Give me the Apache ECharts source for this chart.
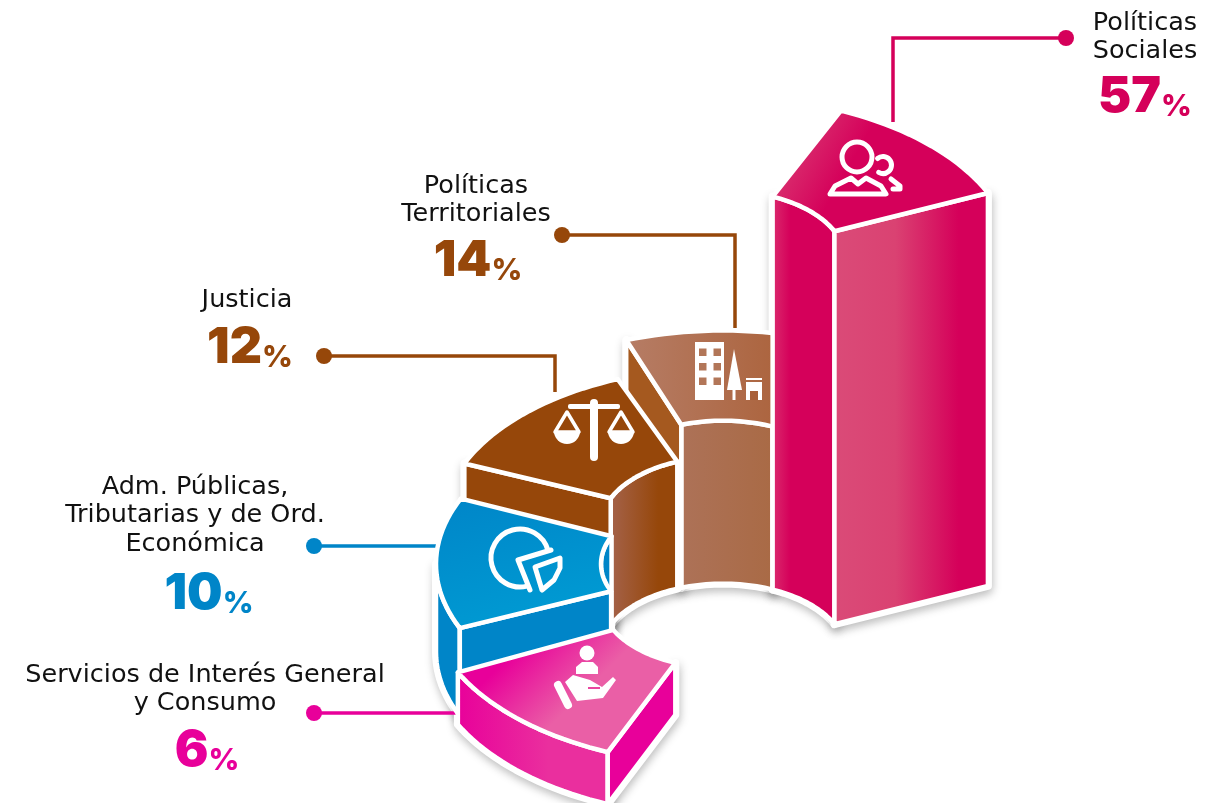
<!DOCTYPE html>
<html>
<head>
<meta charset="utf-8">
<style>
  html, body { margin: 0; padding: 0; background: #fff; }
  #chart { width: 1208px; height: 803px; }
</style>
<script src="https://cdn.jsdelivr.net/npm/echarts@6/dist/echarts.min.js"></script>
</head>
<body>
<div id="chart"></div>
<script>
// listed back to front, the slices are painted in this order
const categories = [
  "Políticas\nTerritoriales",
  "Políticas\nSociales",
  "Justicia",
  "Adm. Públicas,\nTributarias y de Ord.\nEconómica",
  "Servicios de Interés General\ny Consumo"
];
const shares = [14, 57, 12, 10, 6];
const mainColors = ["#96470a", "#d5005a", "#96470a", "#0085c8", "#e8009a"];

// ring geometry, not data: the picture does not draw the shares to scale
const startAngles = [250, 294, 203, 156.5, 113];
const endAngles = [294, 336, 248, 204, 154];
const columnHeights = [163, 393, 127, 88, 52];
const outerRadii = [283, 290, 281, 287, 295];
const CENTER = [723, 652];
const SQUASH = 0.56;
const INNER_RADIUS = 122;

// [x, first line y, percent x, percent y]
const labelSpots = [
  [476, 172, 478, 261],
  [1145, 9, 1145, 97],
  [247, 286, 250, 348],
  [195, 473, 209, 594],
  [205, 661, 207, 751]
];
const leaderPaths = [
  [[562, 235], [735, 235], [735, 328]],
  [[1066, 38], [893, 38], [893, 122]],
  [[324, 356], [555, 356], [555, 392]],
  [[314, 546], [438, 546]],
  [[314, 713], [458, 713]]
];

const topFills = [
  [[0, "#b67d66"], [1, "#a85a2e"]],
  [[0, "#dc4f7c"], [0.55, "#d5005a"], [1, "#d5005a"]],
  [[0, "#96470a"], [1, "#96470a"]],
  [[0, "#0085c8"], [1, "#0099d2"]],
  [[0, "#e8009a"], [0.3, "#e8009a"], [0.85, "#ea5fa6"], [1, "#ea5fa6"]]
];
const topDirs = [[0, 0, 1, 0], [0, 0, 0.7, 0.7], [0, 0, 1, 0], [0, 0, 0.2, 1], [0.1, 0, 0.55, 0.8]];
const innerFills = [
  [[0, "#ad7258"], [1, "#a96a45"]],
  [[0, "#db2f6f"], [0.3, "#d5005a"], [1, "#d5005a"]],
  [[0, "#a5634c"], [0.7, "#96470a"], [1, "#96470a"]],
  [[0, "#0085c8"], [1, "#0085c8"]],
  [[0, "#e8009a"], [1, "#e8009a"]]
];
const startWallFills = ["#a5591f", "#d5005a", "#96470a", "#0085c8", "#e8009a"];
const outerFills = [
  [[0, "#a85a2e"], [1, "#a85a2e"]],
  [[0, "#d5005a"], [1, "#d5005a"]],
  [[0, "#96470a"], [1, "#96470a"]],
  [[0, "#0085c8"], [1, "#0085c8"]],
  [[0, "#e8009a"], [0.6, "#ea2f9e"], [1, "#ea2f9e"]]
];
const endWallFill = [[0, "#da4b78"], [0.4, "#da4272"], [0.8, "#d5005a"], [1, "#d5005a"]];

function project(r, deg, z) {
  const a = (deg * Math.PI) / 180;
  return [CENTER[0] + r * Math.cos(a), CENTER[1] + SQUASH * r * Math.sin(a) - z];
}

function arc(r, from, to, z) {
  const pts = [];
  const steps = Math.max(2, Math.ceil(Math.abs(to - from) / 2));
  for (let i = 0; i <= steps; i++) {
    pts.push(project(r, from + ((to - from) * i) / steps, z));
  }
  return pts;
}

function grad(stops, dir) {
  const d = dir || [0, 0, 1, 0];
  return new echarts.graphic.LinearGradient(d[0], d[1], d[2], d[3],
    stops.map(s => ({ offset: s[0], color: s[1] })));
}

// every face of one slice as a list of {points, fill}, in paint order, top face last
function sliceFaces(i) {
  const a0 = startAngles[i], a1 = endAngles[i], h = columnHeights[i];
  const r0 = INNER_RADIUS, r1 = outerRadii[i];
  const faces = [];
  const wallArc = (r, from, to, fill) => {
    const hi = arc(r, from, to, h);
    const lo = arc(r, to, from, 0);
    faces.push({ points: hi.concat(lo), fill: fill });
  };
  // inner wall only shows on the far half of the ring
  const innerFrom = Math.max(a0, 180), innerTo = Math.min(a1, 360);
  if (innerTo > innerFrom) wallArc(r0, innerFrom, innerTo, grad(innerFills[i]));
  // outer wall only shows on the near half
  const outerFrom = Math.max(a0, 0), outerTo = Math.min(a1, 180);
  if (outerTo > outerFrom) wallArc(r1, outerFrom, outerTo, grad(outerFills[i]));
  if (Math.cos((a0 * Math.PI) / 180) < 0) {
    faces.push({
      points: [project(r0, a0, h), project(r1, a0, h), project(r1, a0, 0), project(r0, a0, 0)],
      fill: startWallFills[i]
    });
  }
  if (Math.cos((a1 * Math.PI) / 180) > 0) {
    faces.push({
      points: [project(r0, a1, h), project(r1, a1, h), project(r1, a1, 0), project(r0, a1, 0)],
      fill: grad(endWallFill)
    });
  }
  faces.push({
    points: arc(r1, a0, a1, h).concat(arc(r0, a1, a0, h)),
    fill: grad(topFills[i], topDirs[i])
  });
  return faces;
}

const WHITE = "#fff";
const ink = { fill: "none", stroke: WHITE, lineWidth: 5, lineCap: "round", lineJoin: "round" };
const solid = { fill: WHITE };

function poly(points, style) { return { type: "polygon", shape: { points }, style }; }
function line(points, style) { return { type: "polyline", shape: { points }, style }; }
function box(x, y, width, height, fill, r) {
  return { type: "rect", shape: { x, y, width, height, r: r || 0 }, style: { fill } };
}
function dot(cx, cy, r, style) { return { type: "circle", shape: { cx, cy, r }, style }; }
function bow(cx, cy, r, from, to, style, clockwise) {
  return {
    type: "arc",
    shape: { cx, cy, r, startAngle: (from * Math.PI) / 180, endAngle: (to * Math.PI) / 180, clockwise: clockwise !== false },
    style
  };
}

// white pictograms, drawn around their own origin
const icons = [
  { at: [728, 370], parts: () => {
    const win = "#b27658", parts = [box(-33, -28, 29, 58, WHITE)];
    [0, 1, 2].forEach(r => [0, 1].forEach(c => parts.push(box(-29 + c * 14.5, -21.5 + r * 14.5, 7.5, 7.5, win))));
    parts.push(poly([[6, -21], [-1, 20], [14, 20]], solid), box(4.5, 18, 3, 12, WHITE));
    parts.push(box(18, 8, 16, 2, WHITE), box(18, 12, 16, 18, WHITE), box(22, 21, 8, 9, "#a85f38"));
    return parts;
  } },
  { at: [865, 170], parts: () => [
    dot(-8, -13, 15, ink),
    bow(18, -5, 8.5, 230, 120, ink),
    poly([[-35, 24], [-30, 16], [-14, 8], [-7, 14], [1, 8], [16, 16], [21, 24]], ink),
    line([[26, 9], [35, 16], [35, 19], [28, 19]], ink)
  ] },
  { at: [594, 430], parts: () => [
    box(-4, -31, 8, 62, WHITE, 4),
    box(-26, -26, 52, 5, WHITE, 2),
    line([[-39, 2], [-27, -18], [-15, 2], [-39, 2]], { ...ink, lineWidth: 3.5 }),
    line([[39, 2], [27, -18], [15, 2], [39, 2]], { ...ink, lineWidth: 3.5 }),
    bow(-27, 1, 13, 0, 180, solid),
    bow(27, 1, 13, 0, 180, solid)
  ] },
  { at: [520, 560], parts: () => [
    line([[31, -10], [-2, 0], [10, 30]], ink),
    bow(0, -2, 29, -15, 76, ink, false),
    poly([[15, 7], [40, -2], [40, 8], [34, 20], [22, 30]], ink)
  ] },
  { at: [585, 680], parts: () => [
    dot(2, -27, 7.5, solid),
    poly([[-9, -6], [-9, -13], [-3, -18], [8, -18], [13, -13], [13, -6]], solid),
    line([[-27, 5], [-17, 25]], { ...ink, lineWidth: 8 }),
    poly([[-20, 2], [-12, -5], [5, 0], [17, 7], [28, -3], [31, 0], [18, 18], [-8, 21]], solid),
    line([[3, 8], [15, 8]], { stroke: "#e9479f", lineWidth: 2, fill: "none" })
  ] }
];

const axisOff = { show: false };
const chart = echarts.init(document.getElementById("chart"));
chart.setOption({
  animation: false,
  backgroundColor: "#ffffff",
  grid: { left: 0, right: 0, top: 0, bottom: 0 },
  xAxis: { type: "value", min: 0, max: 1208, ...axisOff },
  yAxis: { type: "value", min: 0, max: 803, inverse: true, ...axisOff },
  series: [
    {
      // soft shadow and white halo under the walls
      type: "custom",
      z: 1,
      silent: true,
      data: shares.map((s, i) => [i, s]),
      renderItem: (params, api) => ({
        type: "group",
        children: sliceFaces(api.value(0)).slice(0, -1).map(f => ({
          type: "polygon",
          shape: { points: f.points.map(p => api.coord(p)) },
          style: {
            fill: WHITE, stroke: WHITE, lineWidth: 8, lineJoin: "round",
            shadowBlur: 10, shadowColor: "rgba(0,0,0,0.2)", shadowOffsetX: 1, shadowOffsetY: 4
          }
        }))
      })
    },
    {
      // leader lines with their end dots
      type: "custom",
      z: 2,
      silent: true,
      data: shares.map((s, i) => [i, s]),
      renderItem: (params, api) => {
        const i = api.value(0);
        const pts = leaderPaths[i].map(p => api.coord(p));
        return {
          type: "group",
          children: [
            { type: "polyline", shape: { points: pts }, style: { fill: "none", stroke: mainColors[i], lineWidth: 3.5 } },
            { type: "circle", shape: { cx: pts[0][0], cy: pts[0][1], r: 8 }, style: { fill: mainColors[i] } }
          ]
        };
      }
    },
    {
      // the slices
      type: "custom",
      z: 3,
      silent: true,
      data: shares.map((s, i) => [i, s]),
      renderItem: (params, api) => {
        const i = api.value(0);
        const faces = sliceFaces(i).map(f => ({
          type: "polygon",
          shape: { points: f.points.map(p => api.coord(p)) },
          style: { fill: f.fill, stroke: WHITE, lineWidth: 4.5, lineJoin: "round" }
        }));
        const at = api.coord(icons[i].at);
        faces.push({ type: "group", x: at[0], y: at[1], children: icons[i].parts() });
        return { type: "group", children: faces };
      }
    },
    {
      // names and percentages
      type: "custom",
      z: 4,
      silent: true,
      data: shares.map((s, i) => [i, s]),
      renderItem: (params, api) => {
        const i = api.value(0);
        const spot = labelSpots[i];
        const name = api.coord([spot[0], spot[1]]);
        const pct = api.coord([spot[2], spot[3]]);
        return {
          type: "group",
          children: [
            {
              type: "text",
              style: {
                x: name[0], y: name[1], text: categories[i], fill: "#111",
                font: '25.5px "DejaVu Sans"', align: "center", verticalAlign: "top", lineHeight: 28.5
              }
            },
            {
              type: "text",
              style: {
                x: pct[0], y: pct[1], text: "{n|" + api.value(1) + "}{p|%}", align: "center", verticalAlign: "middle",
                rich: {
                  n: { font: '900 50px Inter', fill: mainColors[i] },
                  p: { font: '800 30px Inter', fill: mainColors[i], verticalAlign: "bottom", padding: [10, 0, 0, 0] }
                }
              }
            }
          ]
        };
      }
    }
  ]
});
</script>
</body>
</html>
